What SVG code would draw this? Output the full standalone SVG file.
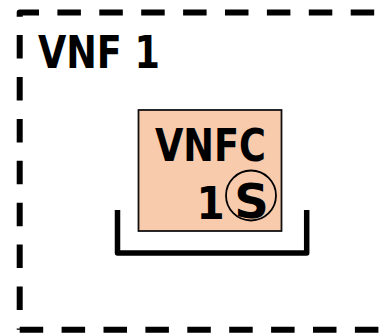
<svg xmlns="http://www.w3.org/2000/svg" width="388" height="336" viewBox="0 0 388 336">
  <style>
    .frame { fill: none; stroke: #000; stroke-width: 6; stroke-dasharray: 23.5 18.4; stroke-linejoin: round; stroke-linecap: butt; }
    .lbl { font-family: "DejaVu Sans Condensed", "DejaVu Sans", sans-serif; font-weight: bold; fill: #000; }
    .sym { font-family: "DejaVu Sans", sans-serif; font-weight: bold; fill: #000; }
    .box { fill: #F8CBAD; stroke: #111; stroke-width: 1.8; }
    .bracket { fill: none; stroke: #000; stroke-width: 5.5; stroke-linejoin: round; stroke-linecap: butt; }
  </style>
  <rect width="388" height="336" fill="#fff"/>
  <g id="vnf1">
    <path class="frame" d="M19.7 329.7 V12.5 H396" stroke-dashoffset="22.2"/>
    <path class="frame" d="M19.7 329.7 H396"/>
    <text class="lbl" x="38" y="68" font-size="45" textLength="122" lengthAdjust="spacingAndGlyphs">VNF 1</text>
  </g>
  <g id="host">
    <path class="bracket" d="M117.5 210 V253 H306.7 V210"/>
  </g>
  <g id="vnfc1">
    <rect class="box" x="138.5" y="110" width="143" height="121"/>
    <text class="lbl" x="155" y="161" font-size="45" textLength="111" lengthAdjust="spacingAndGlyphs">VNFC</text>
    <text class="lbl" x="210.5" y="219" font-size="45" text-anchor="middle">1</text>
    <circle cx="251" cy="195.5" r="25" fill="none" stroke="#000" stroke-width="1.8"/>
    <text class="sym" x="251.5" y="217.5" font-size="48" text-anchor="middle">S</text>
  </g>
  <g id="connectors"/>
</svg>
